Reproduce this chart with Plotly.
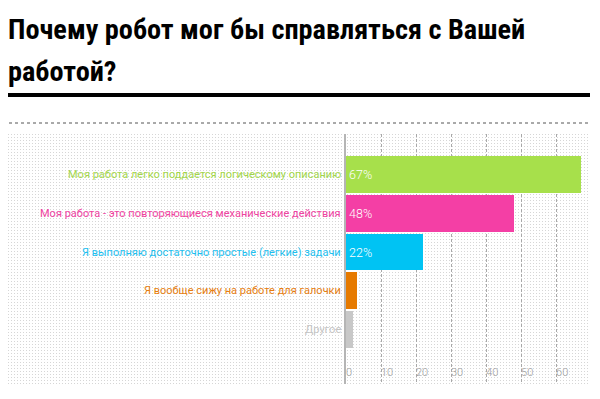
import base64, struct, zlib
import plotly.graph_objects as go

# ---- data ----
categories = [
    "Моя работа легко поддается логическому описанию",
    "Моя работа - это повторяющиеся механические действия",
    "Я выполняю достаточно простые (легкие) задачи",
    "Я вообще сижу на работе для галочки",
    "Другое",
]
values = [67, 48, 22, 3, 2]
value_labels = ["67%", "48%", "22%", "", ""]
bar_colors = ["#a7e04b", "#f43fa5", "#00c3f3", "#e67a00", "#c8c8c8"]
label_colors = ["#a3d64a", "#f0449f", "#1ec0ef", "#e67e10", "#c4c4c4"]
tick_vals = [0, 10, 20, 30, 40, 50, 60]
title_lines = ["Почему робот мог бы справляться с Вашей", "работой?"]

# the page body has an 8px default margin; positions below are in reference pixels
OFF = 8
W, H = 600 - OFF, 399 - OFF
PL, PR, PT, PB = 346, 590, 134, 384          # plot area in reference pixels
ML, MT = PL - OFF, PT - OFF
MR, MB = W - (PR - OFF), H - (PB - OFF)
PW, PH = PR - PL, PB - PT


def px(x):
    return (x - PL) / PW


def py(y):
    return (PB - y) / PH


def dot_png(w, h, step, shade):
    raw = bytearray()
    for yy in range(h):
        raw.append(0)
        for xx in range(w):
            raw.append(shade if (xx % step == 0 and yy % step == 0) else 255)

    def chunk(tag, data):
        return (struct.pack(">I", len(data)) + tag + data +
                struct.pack(">I", zlib.crc32(tag + data) & 0xffffffff))

    png = (b"\x89PNG\r\n\x1a\n" +
           chunk(b"IHDR", struct.pack(">IIBBBBB", w, h, 8, 0, 0, 0, 0)) +
           chunk(b"IDAT", zlib.compress(bytes(raw), 9)) +
           chunk(b"IEND", b""))
    return "data:image/png;base64," + base64.b64encode(png).decode()


bg_x0, bg_x1, bg_y0, bg_y1 = 8, 590, 134, 385
bg_src = dot_png(bg_x1 - bg_x0, bg_y1 - bg_y0, 3, 0xd6)

LABEL_FONT = "Roboto, sans-serif"
ypos = list(range(len(categories)))

fig = go.Figure()
fig.add_trace(go.Bar(
    x=values, y=ypos, orientation="h", width=0.95,
    marker=dict(color=bar_colors, line=dict(width=0)),
    text=value_labels, textposition="inside", insidetextanchor="start",
    textfont=dict(color="white", size=12.5, family=LABEL_FONT, weight=300),
    hoverinfo="skip", cliponaxis=False,
))

ann = []
for i, (c, col) in enumerate(zip(categories, label_colors)):
    ann.append(dict(x=0, y=i, xref="x", yref="y", text=c, showarrow=False,
                    xanchor="right", yanchor="middle", xshift=-3,
                    font=dict(color=col, size=11, family=LABEL_FONT, weight=400)))

title_font = dict(color="black", size=28.3,
                  family="Liberation Sans Narrow, Roboto Condensed, DejaVu Sans Condensed, sans-serif")
ann.append(dict(x=px(6), y=py(29.5), xref="paper", yref="paper", text="<b>%s</b>" % title_lines[0],
                showarrow=False, xanchor="left", yanchor="middle", font=title_font))
ann.append(dict(x=px(6), y=py(71), xref="paper", yref="paper", text="<b>%s</b>" % title_lines[1],
                showarrow=False, xanchor="left", yanchor="middle", font=title_font))

shapes = [
    dict(type="line", xref="paper", yref="paper", x0=px(7), x1=px(590), y0=py(95), y1=py(95),
         line=dict(color="black", width=4)),
    dict(type="line", xref="paper", yref="paper", x0=px(9), x1=px(590), y0=py(123), y1=py(123),
         line=dict(color="#555555", width=1, dash="3px,3px")),
]

fig.update_layout(
    width=W, height=H,
    margin=dict(l=ML, r=MR, t=MT, b=MB),
    paper_bgcolor="white", plot_bgcolor="rgba(0,0,0,0)",
    showlegend=False,
    annotations=ann, shapes=shapes,
    images=[dict(source=bg_src, xref="paper", yref="paper", x=px(bg_x0), y=py(bg_y0),
                 sizex=px(bg_x1) - px(bg_x0), sizey=py(bg_y0) - py(bg_y1),
                 xanchor="left", yanchor="top", sizing="stretch", layer="below")],
    xaxis=dict(range=[0, 69.7], tickvals=tick_vals, showgrid=True, gridcolor="#a8a8a8",
               griddash="3px,2px", gridwidth=1, zeroline=False, showline=False,
               ticklabelposition="inside right", ticks="",
               tickfont=dict(color="#9a9a9a", size=11, family=LABEL_FONT, weight=300)),
    yaxis=dict(range=[5.4, -1.04], showticklabels=False, showgrid=False, zeroline=False,
               showline=True, linecolor="#b5b5b5", linewidth=2),
    bargap=0,
)

fig.write_html("out.html")
